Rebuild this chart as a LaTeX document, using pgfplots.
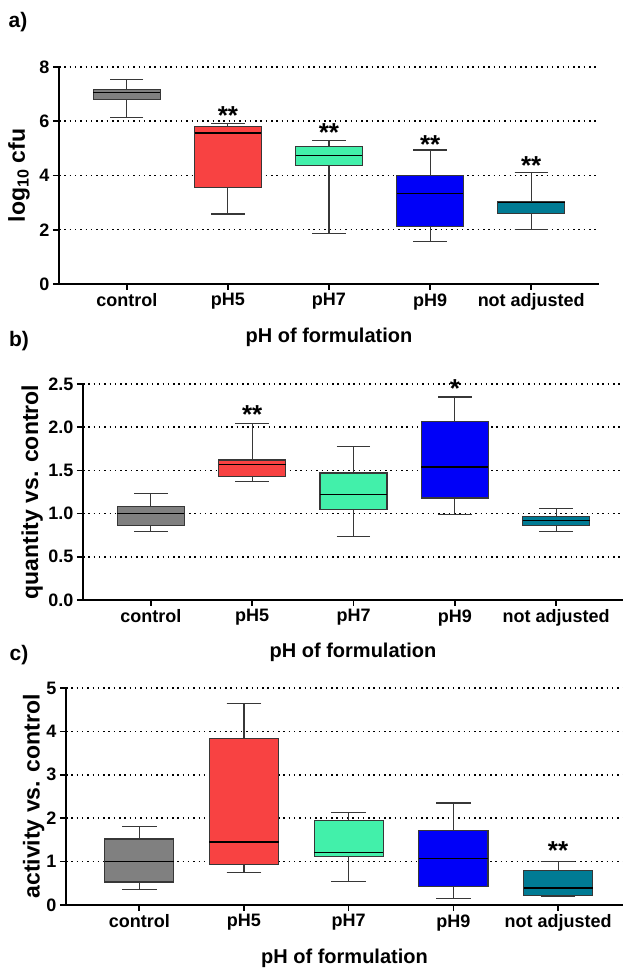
\documentclass[border=0pt]{standalone}
\usepackage{fontspec}
\setmainfont{Liberation Sans}
\usepackage{pgfplots}
\pgfplotsset{compat=1.18}
\usepgfplotslibrary{statistics}

\definecolor{cgray}{RGB}{128,128,128}
\definecolor{cred}{RGB}{248,66,66}
\definecolor{cgreen}{RGB}{66,240,170}
\definecolor{cblue}{RGB}{0,0,248}
\definecolor{cteal}{RGB}{0,123,148}
\definecolor{cedge}{RGB}{55,55,55}

\newcommand{\bp}[7]{\addplot[draw=cedge, line width=1.2pt, fill=#7,
  boxplot/draw direction=y,
  boxplot prepared={draw position=#1, lower whisker=#2, lower quartile=#3,
  median=#4, upper quartile=#5, upper whisker=#6, box extend=0.66, whisker extend=0.33,
  every median/.style={black, line width=1.2pt},
  every whisker/.style={line width=1.1pt}}] coordinates {};}

\newcommand{\stars}[3]{\node[font=\bfseries\fontsize{26}{26}\selectfont, anchor=base, yshift=-10pt, inner sep=0pt] at (axis cs:#1,#2) {#3};}

\pgfplotsset{
  panel/.style={
    scale only axis,
    clip=false,
    axis x line*=bottom, axis y line*=left,
    axis line style={line width=2pt, black},
    xtick={0,...,4},
    xticklabels={control,pH5,pH7,pH9,not adjusted},
    tick align=outside,
    major tick length=6pt,
    tick style={line width=1.6pt, black},
    ymajorgrids,
    grid style={line width=1.5pt, black, dash pattern=on 1.5pt off 3.8pt},
    tick label style={font=\bfseries\fontsize{18}{20}\selectfont},
    /pgf/number format/assume math mode=true,
    label style={font=\bfseries\fontsize{23}{26}\selectfont},
    xlabel={pH of formulation},
    xlabel style={at={(axis description cs:0.5,-0.244)}, anchor=center, font=\bfseries\fontsize{20}{22}\selectfont},
    ymin=0,
  }
}

\begin{document}
\begin{tikzpicture}
\useasboundingbox (0,0) rectangle (623pt,969pt);

% panel a
\begin{axis}[panel, at={(59pt,685pt)}, anchor=south west, width=540pt, height=217pt,
  xmin=-0.67, xmax=4.67, ymax=8, ytick={0,2,4,6,8},
  ylabel={log\textsubscript{10} cfu},
  ylabel style={at={(axis description cs:-0.074,0.5)}, anchor=center}]
\bp{0}{6.15}{6.81}{7.06}{7.16}{7.53}{cgray}
\bp{1}{2.58}{3.55}{5.57}{5.82}{5.93}{cred}
\bp{2}{1.85}{4.37}{4.73}{5.08}{5.29}{cgreen}
\bp{3}{1.55}{2.13}{3.35}{4.00}{4.94}{cblue}
\bp{4}{2.02}{2.59}{3.00}{3.03}{4.12}{cteal}
\stars{1}{6.26}{**}
\stars{2}{5.62}{**}
\stars{3}{5.19}{**}
\stars{4}{4.42}{**}
\end{axis}

% panel b
\begin{axis}[panel, at={(83pt,369pt)}, anchor=south west, width=540pt, height=216pt,
  xmin=-0.67, xmax=4.66, ymax=2.5, ytick={0,0.5,1,1.5,2,2.5},
  yticklabel style={/pgf/number format/fixed, /pgf/number format/fixed zerofill, /pgf/number format/precision=1},
  ylabel={quantity vs. control},
  ylabel style={at={(axis description cs:-0.094,0.5)}, anchor=center}]
\bp{0}{0.79}{0.86}{1.00}{1.08}{1.23}{cgray}
\bp{1}{1.37}{1.43}{1.57}{1.62}{2.04}{cred}
\bp{2}{0.73}{1.05}{1.22}{1.47}{1.78}{cgreen}
\bp{3}{0.99}{1.18}{1.54}{2.07}{2.35}{cblue}
\bp{4}{0.79}{0.86}{0.92}{0.97}{1.06}{cteal}
\stars{1}{2.16}{**}
\stars{3}{2.46}{*}
\end{axis}

% panel c
\begin{axis}[panel, at={(66pt,64pt)}, anchor=south west, width=557pt, height=217pt,
  xmin=-0.70, xmax=4.62, ymax=5, ytick={0,1,2,3,4,5},
  ylabel={activity vs. control},
  ylabel style={at={(axis description cs:-0.058,0.5)}, anchor=center}]
\bp{0}{0.35}{0.53}{1.01}{1.52}{1.81}{cgray}
\bp{1}{0.74}{0.93}{1.45}{3.83}{4.65}{cred}
\bp{2}{0.55}{1.11}{1.21}{1.95}{2.13}{cgreen}
\bp{3}{0.15}{0.42}{1.08}{1.72}{2.35}{cblue}
\bp{4}{0.20}{0.22}{0.39}{0.80}{1.01}{cteal}
\stars{4}{1.27}{**}
\end{axis}

\node[font=\bfseries\fontsize{21}{21}\selectfont] at (18pt,947pt) {a)};
\node[font=\bfseries\fontsize{21}{21}\selectfont] at (19pt,628pt) {b)};
\node[font=\bfseries\fontsize{21}{21}\selectfont] at (19pt,314pt) {c)};
\end{tikzpicture}
\end{document}
